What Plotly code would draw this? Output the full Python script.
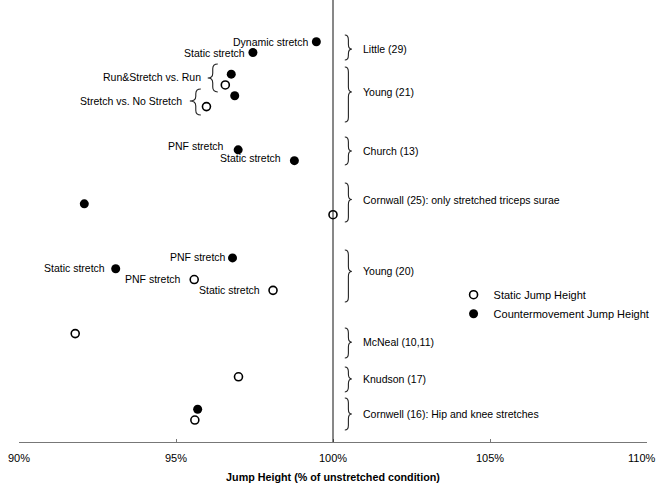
import plotly.graph_objects as go

# ---- data (rows counted from the top of the chart) ----
cmj_rows = [4, 5, 7, 9, 14, 15, 19, 24, 25, 38]
cmj_values = [99.47, 97.45, 96.76, 96.87, 96.98, 98.77, 92.08, 96.80, 93.08, 95.69]
sj_rows = [8, 10, 20, 26, 27, 31, 35, 39]
sj_values = [96.57, 95.97, 100.0, 95.58, 98.09, 91.79, 96.99, 95.60]

# point labels (text, right end in % units, row)
point_labels = ["Dynamic stretch", "Static stretch", "Run&Stretch vs. Run",
                "Stretch vs. No Stretch", "PNF stretch", "Static stretch",
                "PNF stretch", "Static stretch", "PNF stretch", "Static stretch"]
point_label_x = [99.26, 97.25, 95.85, 95.24, 96.58, 98.40, 96.65, 92.79, 95.21, 97.73]
point_label_row = [4.0, 5.0, 7.27, 9.44, 13.65, 14.76, 23.9, 24.95, 25.95, 26.97]

# study groups (right-hand braces)
groups = ["Little (29)", "Young (21)", "Church (13)",
          "Cornwall (25): only stretched triceps surae", "Young (20)",
          "McNeal (10,11)", "Knudson (17)", "Cornwell (16): Hip and knee stretches"]
group_top = [3.38, 6.34, 12.82, 17.07, 23.27, 30.49, 34.09, 36.96]
group_bottom = [5.69, 11.43, 15.40, 20.68, 28.08, 33.26, 36.40, 39.92]
group_label_row = [4.68, 8.65, 14.11, 18.6, 25.25, 31.8, 35.2, 38.44]

# sub-comparison braces on the left of Young (21)
sub_top = [6.06, 8.38]
sub_bottom = [8.65, 10.78]
sub_mid = [7.36, 9.49]
sub_tip = [96.01, 95.44]
sub_stem = [96.17, 95.63]
sub_end = [96.33, 95.79]

x_ticks = [90, 95, 100, 105, 110]
x_tick_text = ["90%", "95%", "100%", "105%", "110%"]

FONT = "Arial, Liberation Sans, sans-serif"
LBL = 10.5


def brace_path(top, bot, mid, x_end, x_stem, x_tip, r=0.45):
    return (f"M {x_end},{top} Q {x_stem},{top} {x_stem},{top + r} "
            f"L {x_stem},{mid - r} Q {x_stem},{mid} {x_tip},{mid} "
            f"Q {x_stem},{mid} {x_stem},{mid + r} "
            f"L {x_stem},{bot - r} Q {x_stem},{bot} {x_end},{bot}")


fig = go.Figure()
fig.add_trace(go.Scatter(
    x=sj_values, y=sj_rows, mode="markers", name="Static Jump Height",
    marker=dict(symbol="circle-open", size=8, color="black", line=dict(width=1.6)),
    cliponaxis=False))
fig.add_trace(go.Scatter(
    x=cmj_values, y=cmj_rows, mode="markers", name="Countermovement Jump Height",
    marker=dict(symbol="circle", size=9, color="black"),
    cliponaxis=False))

shapes = [dict(type="line", xref="x", yref="paper", x0=100, x1=100, y0=0, y1=1,
               line=dict(color="#111", width=1))]
annotations = []

for name, t, b, m in zip(groups, group_top, group_bottom, group_label_row):
    shapes.append(dict(type="path", xref="x", yref="y",
                       path=brace_path(t, b, m, 100.376, 100.49, 100.60),
                       line=dict(color="#222", width=1.1)))
    annotations.append(dict(x=100.90, y=m, xref="x", yref="y",
                            text=name, showarrow=False, xanchor="left",
                            yanchor="middle", font=dict(size=LBL, color="black", family=FONT)))

for t, b, m, xt, xs, xe in zip(sub_top, sub_bottom, sub_mid, sub_tip, sub_stem, sub_end):
    shapes.append(dict(type="path", xref="x", yref="y",
                       path=brace_path(t, b, m, xe, xs, xt),
                       line=dict(color="#222", width=1.1)))

for txt, lx, ly in zip(point_labels, point_label_x, point_label_row):
    annotations.append(dict(x=lx, y=ly, xref="x", yref="y", text=txt,
                            showarrow=False, xanchor="right", yanchor="middle",
                            font=dict(size=LBL, color="black", family=FONT)))

# last tick label kept fully inside the page (right-aligned at the page edge)
annotations.append(dict(x=x_ticks[-1], y=0, xref="x", yref="paper", text=x_tick_text[-1],
                        showarrow=False, xanchor="right", yanchor="top", yshift=-8,
                        xshift=11, font=dict(size=11, color="black", family=FONT)))

fig.update_layout(
    width=658, height=483,
    margin=dict(l=19, r=11, t=0, b=41),
    paper_bgcolor="white", plot_bgcolor="white",
    font=dict(family=FONT, size=11, color="black"),
    shapes=shapes, annotations=annotations,
    showlegend=True,
    legend=dict(x=0.692, y=0.366, xanchor="left", yanchor="top",
                bgcolor="rgba(0,0,0,0)", font=dict(size=11, family=FONT),
                itemwidth=30, tracegroupgap=0),
    xaxis=dict(range=[90, 110], tickvals=x_ticks,
               ticktext=x_tick_text[:-1] + [""],
               showgrid=False, zeroline=False, showline=True, automargin=False,
               linecolor="#777", linewidth=1, ticks="inside", ticklen=3,
               tickcolor="#777", tickfont=dict(size=11, family=FONT),
               ticklabelstandoff=6,
               title=dict(text="<b>Jump Height (% of unstretched condition)</b>",
                          font=dict(size=10.75, family=FONT), standoff=10)),
    yaxis=dict(range=[41.03, 0.14], visible=False, showgrid=False, zeroline=False),
)

fig.write_html("out.html")
